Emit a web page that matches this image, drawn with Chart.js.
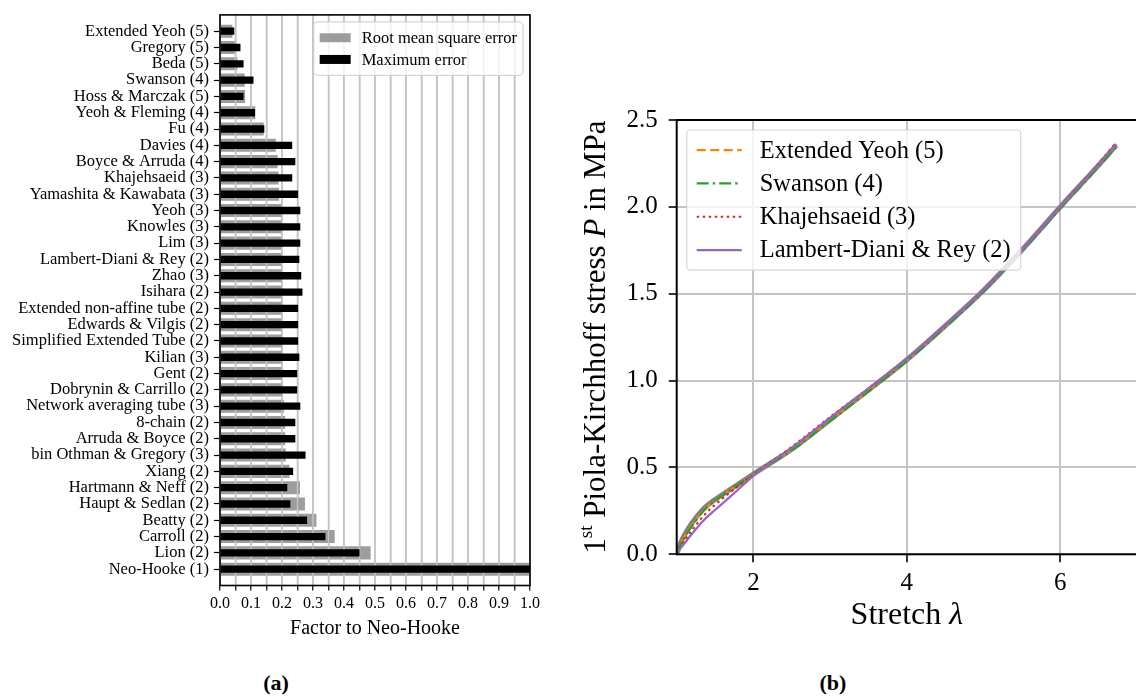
<!DOCTYPE html>
<html>
<head>
<meta charset="utf-8">
<script src="https://cdn.jsdelivr.net/npm/chart.js@4.4.1/dist/chart.umd.min.js"></script>
<style>
  html, body { margin: 0; padding: 0; background: #fff; overflow: hidden; }
  body { width: 1136px; height: 700px; position: relative; }
  #chartA { position: absolute; left: 0; top: 0; }
  #chartB { position: absolute; left: 560px; top: 0; }
  .cap { position: absolute; top: 670px; width: 80px; text-align: center; font: bold 22px "Liberation Serif", serif; }
</style>
</head>
<body>
<canvas id="chartA" width="550" height="660"></canvas>
<canvas id="chartB" width="600" height="660"></canvas>
<div class="cap" style="left:236px">(a)</div>
<div class="cap" style="left:793px">(b)</div>
<script>
// ---- panel (a): error factors, listed top to bottom ----
const models = [
  'Extended Yeoh (5)', 'Gregory (5)', 'Beda (5)', 'Swanson (4)', 'Hoss & Marczak (5)',
  'Yeoh & Fleming (4)', 'Fu (4)', 'Davies (4)', 'Boyce & Arruda (4)', 'Khajehsaeid (3)',
  'Yamashita & Kawabata (3)', 'Yeoh (3)', 'Knowles (3)', 'Lim (3)', 'Lambert-Diani & Rey (2)',
  'Zhao (3)', 'Isihara (2)', 'Extended non-affine tube (2)', 'Edwards & Vilgis (2)',
  'Simplified Extended Tube (2)', 'Kilian (3)', 'Gent (2)', 'Dobrynin & Carrillo (2)',
  'Network averaging tube (3)', '8-chain (2)', 'Arruda & Boyce (2)', 'bin Othman & Gregory (3)',
  'Xiang (2)', 'Hartmann & Neff (2)', 'Haupt & Sedlan (2)', 'Beatty (2)', 'Carroll (2)',
  'Lion (2)', 'Neo-Hooke (1)'
]
const rmsError = [
  0.040, 0.050, 0.056, 0.080, 0.081, 0.114, 0.141, 0.180, 0.186, 0.189,
  0.191, 0.197, 0.197, 0.197, 0.198, 0.200, 0.200, 0.201, 0.201, 0.201,
  0.202, 0.202, 0.203, 0.206, 0.210, 0.210, 0.212, 0.224, 0.258, 0.274,
  0.311, 0.370, 0.486, 1.0
]
const maxError = [
  0.046, 0.066, 0.076, 0.108, 0.076, 0.113, 0.143, 0.233, 0.243, 0.233,
  0.252, 0.259, 0.259, 0.259, 0.256, 0.262, 0.266, 0.252, 0.252, 0.252,
  0.256, 0.249, 0.249, 0.259, 0.243, 0.243, 0.276, 0.236, 0.217, 0.227,
  0.281, 0.340, 0.450, 1.0
]

// ---- panel (b): stress-stretch curves ----
const stretch = [1.0, 1.05, 1.1, 1.2, 1.35, 1.5, 1.75, 2.0, 2.5, 3.0, 3.5, 4.0, 4.5, 5.0, 5.5, 6.0, 6.5, 6.73]
const stressExperiment = [0, 0.065, 0.110, 0.180, 0.262, 0.315, 0.388, 0.462, 0.605, 0.775, 0.945, 1.120, 1.315, 1.520, 1.752, 2.000, 2.240, 2.355]
const stressExtYeoh    = [0, 0.060, 0.102, 0.168, 0.255, 0.310, 0.386, 0.460, 0.603, 0.772, 0.943, 1.118, 1.313, 1.519, 1.750, 1.998, 2.240, 2.358]
const stressSwanson    = [0, 0.056, 0.098, 0.162, 0.250, 0.308, 0.386, 0.458, 0.598, 0.766, 0.937, 1.112, 1.306, 1.512, 1.743, 1.990, 2.230, 2.343]
const stressKhajeh     = [0, 0.045, 0.078, 0.138, 0.222, 0.285, 0.375, 0.458, 0.618, 0.790, 0.955, 1.125, 1.318, 1.522, 1.752, 2.000, 2.248, 2.372]
const stressLambert    = [0, 0.035, 0.062, 0.118, 0.195, 0.255, 0.352, 0.452, 0.612, 0.785, 0.955, 1.126, 1.318, 1.522, 1.752, 2.000, 2.243, 2.362]
const stretchTicks = [2, 4, 6]
const stressTicks = [0, 0.5, 1.0, 1.5, 2.0, 2.5]

const serif = '"Liberation Serif", "Times New Roman", serif'
const gridGray = '#c4c4c4'
Chart.defaults.color = '#000'

// black box around the plot area
const frame = {
    id: 'frame',
    afterDatasetsDraw(chart, args, opts) {
        const {ctx, chartArea: a} = chart
        ctx.save()
        ctx.strokeStyle = '#000'
        ctx.lineWidth = opts.width || 1.5
        ctx.strokeRect(a.left, a.top, a.right - a.left, a.bottom - a.top)
        ctx.restore()
    }
}

// grid lines redrawn over one dataset (gray bars show them, black bars hide them)
const gridOver = {
    id: 'gridOver',
    afterDatasetDraw(chart, args, opts) {
        if (opts.index === undefined || args.index !== opts.index) return
        const {ctx, chartArea: a} = chart
        const sx = chart.scales.x
        ctx.save()
        ctx.strokeStyle = gridGray
        ctx.lineWidth = opts.width
        sx.ticks.forEach(t => {
            const px = sx.getPixelForValue(t.value)
            ctx.beginPath()
            ctx.moveTo(px, a.top)
            ctx.lineTo(px, a.bottom)
            ctx.stroke()
        })
        ctx.restore()
    }
}

// framed legend inside the plot area
const boxLegend = {
    id: 'boxLegend',
    afterDatasetsDraw(chart, args, o) {
        if (!o.items) return
        const {ctx, chartArea: a} = chart
        const sets = o.items.map(l => chart.data.datasets.find(d => d.label === l))
        ctx.save()
        ctx.font = o.font
        const textW = Math.max(...o.items.map(t => ctx.measureText(t).width))
        const w = o.padX * 2 + o.sampleW + o.gap + textW
        const h = o.padY * 2 + o.rowH * sets.length
        const x0 = o.anchor === 'right' ? a.right - o.margin - w : a.left + o.margin
        const y0 = a.top + o.margin
        ctx.beginPath()
        ctx.roundRect(x0, y0, w, h, 4)
        ctx.fillStyle = 'rgba(255,255,255,0.8)'
        ctx.fill()
        ctx.strokeStyle = 'rgba(204,204,204,0.8)'
        ctx.lineWidth = 1.2
        ctx.stroke()
        sets.forEach((d, i) => {
            const cy = y0 + o.padY + o.rowH * (i + 0.5)
            const sx = x0 + o.padX
            if (o.sample === 'rect') {
                ctx.fillStyle = d.backgroundColor
                ctx.fillRect(sx, cy - o.sampleH / 2, o.sampleW, o.sampleH)
            } else {
                ctx.strokeStyle = d.borderColor
                ctx.lineWidth = d.borderWidth
                ctx.setLineDash(d.borderDash || [])
                ctx.beginPath()
                ctx.moveTo(sx, cy)
                ctx.lineTo(sx + o.sampleW, cy)
                ctx.stroke()
                ctx.setLineDash([])
            }
            ctx.fillStyle = '#000'
            ctx.textBaseline = 'middle'
            ctx.fillText(d.label, sx + o.sampleW + o.gap, cy + 1)
        })
        ctx.restore()
    }
}

// axis titles with mixed styles (superscript, italic symbols)
const richTitles = {
    id: 'richTitles',
    afterDraw(chart, args, o) {
        const {ctx, chartArea: a} = chart
        ;(o.items || []).forEach(it => {
            ctx.save()
            let total = 0
            it.parts.forEach(p => { ctx.font = p.font; p.w = ctx.measureText(p.text).width; total += p.w })
            const cx = it.axis === 'y' ? a.left - it.offset : (a.left + a.right) / 2
            const cy = it.axis === 'y' ? (a.top + a.bottom) / 2 : a.bottom + it.offset
            ctx.translate(cx, cy)
            if (it.axis === 'y') ctx.rotate(-Math.PI / 2)
            ctx.textBaseline = 'middle'
            ctx.fillStyle = '#000'
            let x = -total / 2
            it.parts.forEach(p => { ctx.font = p.font; ctx.fillText(p.text, x, p.dy || 0); x += p.w })
            ctx.restore()
        })
    }
}

// ---------------- chart (a) ----------------
new Chart(document.getElementById('chartA'), {
    type: 'bar',
    data: {
        datasets: [{
            label: 'Root mean square error',
            data: models.map((m, i) => ({x: rmsError[i], y: i})),
            backgroundColor: '#9d9d9d',
            barPercentage: 0.8,
            categoryPercentage: 1,
            grouped: false,
            order: 2
        }, {
            label: 'Maximum error',
            data: models.map((m, i) => ({x: maxError[i], y: i})),
            backgroundColor: '#000',
            barPercentage: 0.45,
            categoryPercentage: 1,
            grouped: false,
            order: 1
        }]
    },
    options: {
        indexAxis: 'y',
        responsive: false,
        animation: false,
        layout: {padding: {top: 6, right: 20, left: 0, bottom: 0}},
        scales: {
            x: {
                type: 'linear', min: 0, max: 1,
                ticks: {
                    stepSize: 0.05, autoSkip: false, maxRotation: 0, padding: 4,
                    font: {family: serif, size: 16},
                    callback: (v, i) => i % 2 === 0 ? v.toFixed(1) : ''
                },
                grid: {color: gridGray, lineWidth: 1.5, tickColor: '#000', tickLength: 5, tickWidth: 1.2},
                border: {display: false},
                title: {display: true, text: 'Factor to Neo-Hooke', font: {family: serif, size: 20}, padding: {top: 0, bottom: 19}},
                afterFit: s => { s.height = 74.5 }
            },
            y: {
                type: 'linear', min: -1, max: 34, reverse: true, offset: false,
                afterBuildTicks: s => { s.ticks = models.map((m, i) => ({value: i})) },
                ticks: {autoSkip: false, padding: 5, font: {family: serif, size: 16.5}, callback: v => models[v]},
                grid: {drawOnChartArea: false, offset: false, tickColor: '#000', tickLength: 6, tickWidth: 1.2},
                border: {display: false},
                afterFit: s => { s.width = 220 }
            }
        },
        plugins: {
            legend: {display: false},
            tooltip: {enabled: false},
            frame: {width: 1.6},
            gridOver: {index: 0, width: 1.5},
            boxLegend: {
                items: ['Root mean square error', 'Maximum error'],
                sample: 'rect', anchor: 'right', margin: 7,
                font: '16.5px ' + serif, padX: 6, padY: 5, rowH: 21.7,
                sampleW: 31, sampleH: 9, gap: 11
            }
        }
    },
    plugins: [gridOver, frame, boxLegend]
})

// ---------------- chart (b) ----------------
const pts = arr => stretch.map((l, i) => ({x: l, y: arr[i]}))

new Chart(document.getElementById('chartB'), {
    type: 'line',
    data: {
        datasets: [
            {label: 'Experiment', data: pts(stressExperiment), borderColor: '#808080', borderWidth: 5, order: 5},
            {label: 'Extended Yeoh (5)', data: pts(stressExtYeoh), borderColor: '#ff7f0e', borderDash: [9, 4.5], borderWidth: 2.2, order: 4},
            {label: 'Swanson (4)', data: pts(stressSwanson), borderColor: '#2ca02c', borderDash: [12, 4, 2.5, 4], borderWidth: 2.2, order: 3},
            {label: 'Khajehsaeid (3)', data: pts(stressKhajeh), borderColor: '#d62728', borderDash: [2.5, 3.5], borderWidth: 2.2, order: 2},
            {label: 'Lambert-Diani & Rey (2)', data: pts(stressLambert), borderColor: '#9467bd', borderWidth: 2.2, order: 1}
        ]
    },
    options: {
        responsive: false,
        animation: false,
        layout: {padding: {top: 120, right: 23, left: 0, bottom: 0}},
        elements: {point: {radius: 0}, line: {cubicInterpolationMode: 'monotone', fill: false}},
        scales: {
            x: {
                type: 'linear', min: 1, max: 7,
                afterBuildTicks: s => { s.ticks = stretchTicks.map(v => ({value: v})) },
                ticks: {maxRotation: 0, padding: 6, font: {family: serif, size: 25}},
                grid: {color: gridGray, lineWidth: 2, tickColor: '#000', tickLength: 8, tickWidth: 1.6},
                border: {display: false},
                afterFit: s => { s.height = 105.7 }
            },
            y: {
                type: 'linear', min: 0, max: 2.5,
                afterBuildTicks: s => { s.ticks = stressTicks.map(v => ({value: v})) },
                ticks: {padding: 11, font: {family: serif, size: 25}, callback: v => v.toFixed(1)},
                grid: {color: gridGray, lineWidth: 2, tickColor: '#000', tickLength: 8, tickWidth: 1.6},
                border: {display: false},
                afterFit: s => { s.width = 116.7 }
            }
        },
        plugins: {
            legend: {display: false},
            tooltip: {enabled: false},
            frame: {width: 2},
            boxLegend: {
                items: ['Extended Yeoh (5)', 'Swanson (4)', 'Khajehsaeid (3)', 'Lambert-Diani & Rey (2)'],
                sample: 'line', anchor: 'left', margin: 10,
                font: '24.5px ' + serif, padX: 10, padY: 3.5, rowH: 33.3,
                sampleW: 45, gap: 18
            },
            richTitles: {
                items: [{
                    axis: 'y', offset: 80,
                    parts: [
                        {text: '1', font: '31px ' + serif},
                        {text: 'st', font: '19px ' + serif, dy: -10},
                        {text: ' Piola-Kirchhoff stress ', font: '31px ' + serif},
                        {text: 'P', font: 'italic 31px ' + serif},
                        {text: ' in MPa', font: '31px ' + serif}
                    ]
                }, {
                    axis: 'x', offset: 61,
                    parts: [
                        {text: 'Stretch ', font: '32px ' + serif},
                        {text: 'λ', font: 'italic 32px ' + serif}
                    ]
                }]
            }
        }
    },
    plugins: [frame, boxLegend, richTitles]
})
</script>
</body>
</html>
